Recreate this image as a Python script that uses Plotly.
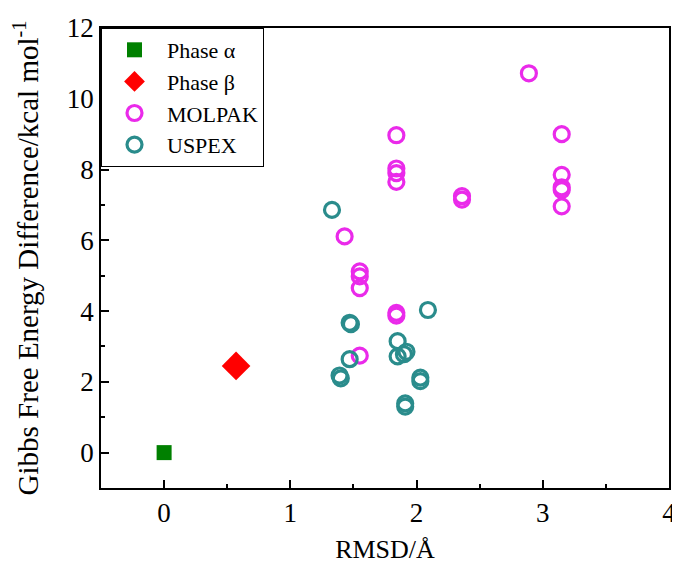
import plotly.graph_objects as go

alpha_x = [0.0]
alpha_y = [0.0]
beta_x = [0.57]
beta_y = [2.45]

molpak_x = [2.89, 1.84, 1.84, 1.84, 1.84, 3.15, 3.15, 3.15, 3.15, 3.15, 2.36, 2.36,
            1.43, 1.55, 1.55, 1.55, 1.84, 1.84, 1.55]
molpak_y = [10.72, 8.97, 8.03, 7.9, 7.65, 9.0, 7.85, 7.5, 7.42, 6.96, 7.25, 7.15,
            6.11, 5.12, 4.98, 4.65, 3.95, 3.87, 2.74]

uspex_x = [1.33, 2.09, 1.47, 1.48, 1.85, 1.85, 1.90, 1.92, 1.47, 1.39, 1.40, 2.03, 2.03, 1.91, 1.91]
uspex_y = [6.86, 4.03, 3.67, 3.63, 3.15, 2.72, 2.78, 2.85, 2.64, 2.18, 2.10, 2.12, 2.02, 1.39, 1.30]

fig = go.Figure()
fig.add_trace(go.Scatter(x=alpha_x, y=alpha_y, mode="markers", name="Phase α",
                         marker=dict(symbol="square", size=15, color="#008000")))
fig.add_trace(go.Scatter(x=beta_x, y=beta_y, mode="markers", name="Phase β",
                         marker=dict(symbol="diamond", size=22, color="#ff0000")))
fig.add_trace(go.Scatter(x=molpak_x, y=molpak_y, mode="markers", name="MOLPAK",
                         marker=dict(symbol="circle-open", size=15, color="#ea2aea",
                                     line=dict(width=3.2, color="#ea2aea"))))
fig.add_trace(go.Scatter(x=uspex_x, y=uspex_y, mode="markers", name="USPEX",
                         marker=dict(symbol="circle-open", size=15, color="#2a8c8c",
                                     line=dict(width=3.2, color="#2a8c8c"))))

font_family = "Liberation Serif, Times New Roman, serif"
axis_common = dict(showgrid=False, zeroline=False, showline=True, linecolor="black",
                   linewidth=1.5, mirror=True, ticks="inside", ticklen=8, tickwidth=1.5,
                   tickcolor="black", ticklabeloverflow="allow",
                   tickfont=dict(family=font_family, size=27, color="black"))

fig.update_xaxes(range=[-0.5, 4], dtick=1, tick0=0,
                 minor=dict(dtick=0.5, ticks="inside", ticklen=4, tickcolor="black", tickwidth=1.5),
                 title=dict(text="RMSD/Å", font=dict(family=font_family, size=26, color="black"),
                            standoff=14),
                 **axis_common)
fig.update_yaxes(range=[-1, 12], dtick=2, tick0=0,
                 minor=dict(dtick=1, ticks="inside", ticklen=4, tickcolor="black", tickwidth=1.5),
                 title=dict(text="Gibbs Free Energy Difference/kcal mol<sup>-1</sup>",
                            font=dict(family=font_family, size=29, color="black"), standoff=20),
                 **axis_common)

fig.update_layout(
    width=672, height=556,
    margin=dict(l=93, r=4, t=20, b=74),
    plot_bgcolor="white", paper_bgcolor="white",
    legend=dict(x=0, y=1, xanchor="left", yanchor="top",
                bgcolor="white", bordercolor="black", borderwidth=1,
                font=dict(family=font_family, size=22, color="black"),
                itemwidth=55, tracegroupgap=0),
    showlegend=True,
)

fig.write_html("out.html")
